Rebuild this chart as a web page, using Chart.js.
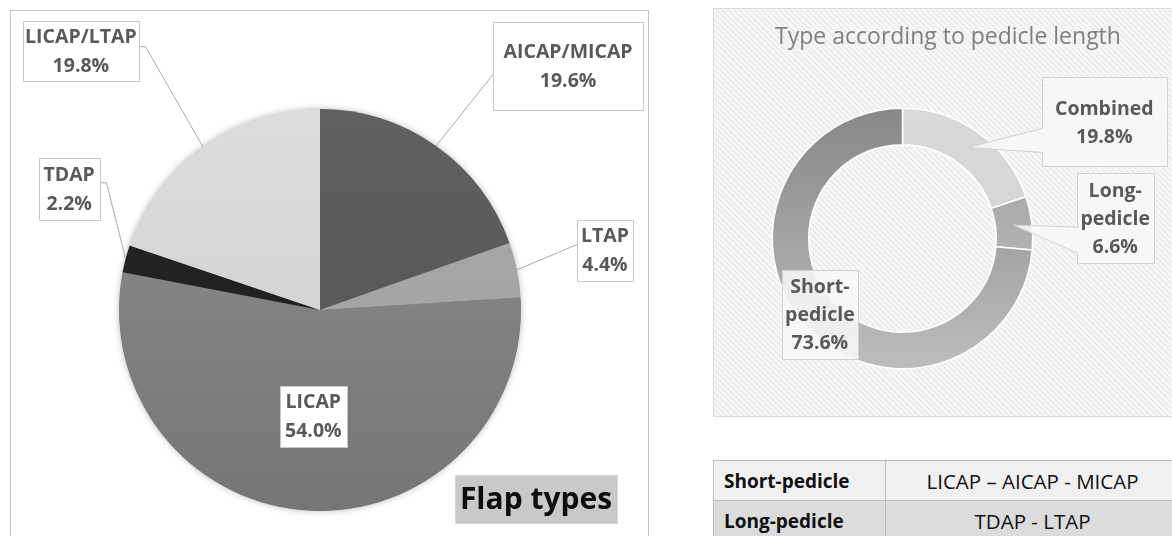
<!DOCTYPE html>
<html>
<head>
<meta charset="utf-8">
<script src="https://cdn.jsdelivr.net/npm/chart.js@4"></script>
<style>
html, body { margin:0; padding:0; width:1172px; height:536px; overflow:hidden; background:#ffffff; font-family:"Open Sans", sans-serif; }
#leftFrame { position:absolute; left:10px; top:10px; width:639px; height:540px; border:1px solid #c4c4c4; box-sizing:border-box; }
#leftWrap { position:absolute; left:0; top:0; width:660px; height:536px; }
#rightPanel { position:absolute; left:713px; top:8px; width:480px; height:409px; box-sizing:border-box; border:1px solid #dcdcdc;
  background: repeating-linear-gradient(45deg, #ededed 0px, #ededed 2px, #f8f8f8 2px, #f8f8f8 4px); }
#rightWrap { position:absolute; left:713px; top:8px; width:470px; height:409px; }
#groups { position:absolute; left:713px; top:460px; width:467px; border-collapse:collapse; font-family:"Open Sans", sans-serif; color:#111; }
#groups td { height:39px; border:1px solid #bcbcbc; padding:0; }
#groups td.g { width:172px; font-weight:bold; font-size:19px; padding-left:10px; box-sizing:border-box; }
#groups td.m { text-align:center; font-size:20.5px; }
#groups tr.r0 td { background:#f0f0f0; }
#groups tr.r1 td { background:#dcdcdc; }
</style>
</head>
<body>
<div id="leftFrame"></div>
<div id="leftWrap"><canvas id="pie"></canvas></div>
<div id="rightPanel"></div>
<div id="rightWrap"><canvas id="ring"></canvas></div>
<table id="groups"></table>
<script>
// ---------- data ----------
const pieLabels = ['AICAP/MICAP', 'LTAP', 'LICAP', 'TDAP', 'LICAP/LTAP'];
const pieValues = [19.6, 4.4, 54.0, 2.2, 19.8];
const pieTitle = 'Flap types';

const ringLabels = ['Combined', 'Long-pedicle', 'Short-pedicle'];
const ringValues = [19.8, 6.6, 73.6];
const ringTitle = 'Type according to pedicle length';

const tableGroups = ['Short-pedicle', 'Long-pedicle'];
const tableMembers = ['LICAP – AICAP - MICAP', 'TDAP - LTAP'];

// ---------- styles / layout ----------
const pieColors = [['#606060', '#525252'], ['#acacac', '#9c9c9c'], ['#8d8d8d', '#767676'], ['#262626', '#1b1b1b'], ['#dcdcdc', '#cdcdcd']];
const ringColors = [['#d9d9d9', '#d2d2d2'], ['#9f9f9f', '#c2c2c2'], ['#888888', '#bdbdbd']];

const pieLabelLayout = [
  { rf: 1, dx: 132, dy: -80, w: 150, h: 88, leader: { side: 'left', oy: 8, elbow: 0 } },
  { rf: 1, dx: 88, dy: -19.5, w: 56, h: 61, leader: { side: 'left', oy: -6, elbow: 0 } },
  { rf: 0.53, dx: 0, dy: 0, w: 67, h: 61 },
  { rf: 1, dx: -56.5, dy: -70, w: 61, h: 62, leader: { side: 'right', oy: -6, elbow: 6 } },
  { rf: 1, dx: -122, dy: -95.5, w: 116, h: 60, leader: { side: 'right', oy: -4.5, elbow: 6 } }
];
const ringLabelLayout = [
  { rf: 0.5, dx: 136.5, dy: -25.5, w: 125, h: 89, wedge: [6.5, 30.5] },
  { rf: 0.5, dx: 101.5, dy: -7, w: 77, h: 90, wedge: [9, 35], wrap: true },
  { rf: 0.5, dx: 0, dy: 0, w: 76, h: 89, wrap: true }
];

function gradientFill(pairs) {
  return function (c) {
    const area = c.chart.chartArea;
    const pair = pairs[c.dataIndex % pairs.length];
    if (!area) return pair[0];
    const g = c.chart.ctx.createLinearGradient(0, area.top, 0, area.bottom);
    g.addColorStop(0, pair[0]);
    g.addColorStop(1, pair[1]);
    return g;
  };
}

function makeCalloutPlugin(cfg) {
  return {
    id: 'callouts_' + cfg.name,
    beforeDatasetsDraw(chart) {
      if (!cfg.shadow) return;
      const el = chart.getDatasetMeta(0).data[0];
      if (!el) return;
      const p = el.getProps(['x', 'y', 'outerRadius'], true);
      const ctx = chart.ctx;
      ctx.save();
      ctx.shadowColor = 'rgba(0,0,0,0.30)';
      ctx.shadowBlur = 7;
      ctx.beginPath();
      ctx.arc(p.x, p.y, p.outerRadius - 0.5, 0, Math.PI * 2);
      ctx.fillStyle = '#888888';
      ctx.fill();
      ctx.restore();
    },
    afterDatasetsDraw(chart) {
      const ctx = chart.ctx;
      const meta = chart.getDatasetMeta(0);
      const ds = chart.data.datasets[0];
      meta.data.forEach((el, i) => {
        const L = cfg.layout[i];
        const p = el.getProps(['x', 'y', 'startAngle', 'endAngle', 'innerRadius', 'outerRadius'], true);
        const mid = (p.startAngle + p.endAngle) / 2;
        const r = p.innerRadius + (p.outerRadius - p.innerRadius) * L.rf;
        const ax = p.x + Math.cos(mid) * r, ay = p.y + Math.sin(mid) * r;
        const cx = ax + L.dx, cy = ay + L.dy;
        const left = Math.round(cx - L.w / 2) + 0.5, top = Math.round(cy - L.h / 2) + 0.5;
        const right = left + L.w, bottom = top + L.h;
        ctx.save();
        ctx.lineWidth = 1;
        if (L.leader) {
          const bx = L.leader.side === 'left' ? left : right;
          const ex = L.leader.side === 'left' ? bx - L.leader.elbow : bx + L.leader.elbow;
          const by = cy + L.leader.oy;
          ctx.beginPath();
          ctx.moveTo(ax, ay);
          ctx.lineTo(ex, by);
          ctx.lineTo(bx, by);
          ctx.strokeStyle = cfg.leaderColor;
          ctx.stroke();
        }
        ctx.beginPath();
        if (L.wedge) {
          ctx.moveTo(left, top);
          ctx.lineTo(right, top);
          ctx.lineTo(right, bottom);
          ctx.lineTo(left, bottom);
          ctx.lineTo(left, cy + L.wedge[1]);
          ctx.lineTo(ax, ay);
          ctx.lineTo(left, cy + L.wedge[0]);
          ctx.closePath();
        } else {
          ctx.rect(left, top, L.w, L.h);
        }
        ctx.fillStyle = cfg.boxFill;
        ctx.fill();
        ctx.strokeStyle = cfg.boxStroke;
        ctx.stroke();
        const name = chart.data.labels[i];
        const parts = L.wrap ? name.split('-').map((s, k, arr) => k < arr.length - 1 ? s + '-' : s) : [name];
        const lines = parts.concat([ds.data[i].toFixed(1) + '%']);
        ctx.font = cfg.font;
        ctx.fillStyle = cfg.textColor;
        ctx.textAlign = 'center';
        ctx.textBaseline = 'middle';
        const y0 = cy - (lines.length - 1) * cfg.lineHeight / 2 + 1;
        lines.forEach((t, k) => ctx.fillText(t, cx, y0 + k * cfg.lineHeight));
        ctx.restore();
      });
    },
    afterDraw(chart) {
      const ctx = chart.ctx;
      const t = cfg.title;
      if (!t) return;
      ctx.save();
      if (t.box) {
        ctx.fillStyle = t.box.fill;
        ctx.fillRect(t.box.x, t.box.y, t.box.w, t.box.h);
        ctx.strokeStyle = t.box.stroke;
        ctx.lineWidth = 1;
        ctx.strokeRect(t.box.x + 0.5, t.box.y + 0.5, t.box.w, t.box.h);
      }
      ctx.font = t.font;
      ctx.fillStyle = t.color;
      ctx.textAlign = 'center';
      ctx.textBaseline = 'middle';
      const tx = t.box ? t.box.x + t.box.w / 2 : chart.width / 2;
      const ty = t.box ? t.box.y + t.box.h / 2 + 1 : t.y;
      ctx.fillText(t.text, tx, ty);
      ctx.restore();
    }
  };
}

const commonOptions = {
  responsive: true,
  maintainAspectRatio: false,
  animation: false,
  events: [],
  plugins: { legend: { display: false }, tooltip: { enabled: false }, title: { display: false } }
};

new Chart(document.getElementById('pie'), {
  type: 'pie',
  data: {
    labels: pieLabels,
    datasets: [{ data: pieValues, backgroundColor: gradientFill(pieColors), borderWidth: 0, clip: false }]
  },
  options: Object.assign({}, commonOptions, {
    rotation: 0,
    layout: { padding: { left: 119, top: 109, right: 139, bottom: 25 } }
  }),
  plugins: [makeCalloutPlugin({
    name: 'pie', layout: pieLabelLayout, shadow: true,
    boxFill: '#ffffff', boxStroke: '#c8c8c8', leaderColor: '#a8a8a8',
    font: 'bold 19.5px "Open Sans"', textColor: '#595959', lineHeight: 29,
    title: { text: pieTitle, font: 'bold 30px "Open Sans"', color: '#0d0d0d',
      box: { x: 455, y: 475, w: 162, h: 48, fill: '#c9c9c9', stroke: '#d8d8d8' } }
  })]
});

new Chart(document.getElementById('ring'), {
  type: 'doughnut',
  data: {
    labels: ringLabels,
    datasets: [{ data: ringValues, backgroundColor: gradientFill(ringColors), borderColor: '#ffffff', borderWidth: 1.5, clip: false }]
  },
  options: Object.assign({}, commonOptions, {
    cutout: '72%',
    layout: { padding: { left: 58.5, top: 99.5, right: 149.5, bottom: 47.5 } }
  }),
  plugins: [makeCalloutPlugin({
    name: 'ring', layout: ringLabelLayout, shadow: false,
    boxFill: 'rgba(247,247,247,0.88)', boxStroke: '#d2d2d2', leaderColor: '#b0b0b0',
    font: 'bold 19.5px "Open Sans"', textColor: '#595959', lineHeight: 28,
    title: { text: ringTitle, font: '23px "Open Sans"', color: '#7f7f7f', y: 29 }
  })]
});

const tbl = document.getElementById('groups');
tableGroups.forEach((g, i) => {
  const tr = document.createElement('tr');
  tr.className = 'r' + i;
  const a = document.createElement('td'); a.className = 'g'; a.textContent = g;
  const b = document.createElement('td'); b.className = 'm'; b.textContent = tableMembers[i];
  tr.appendChild(a); tr.appendChild(b);
  tbl.appendChild(tr);
});
</script>
</body>
</html>
